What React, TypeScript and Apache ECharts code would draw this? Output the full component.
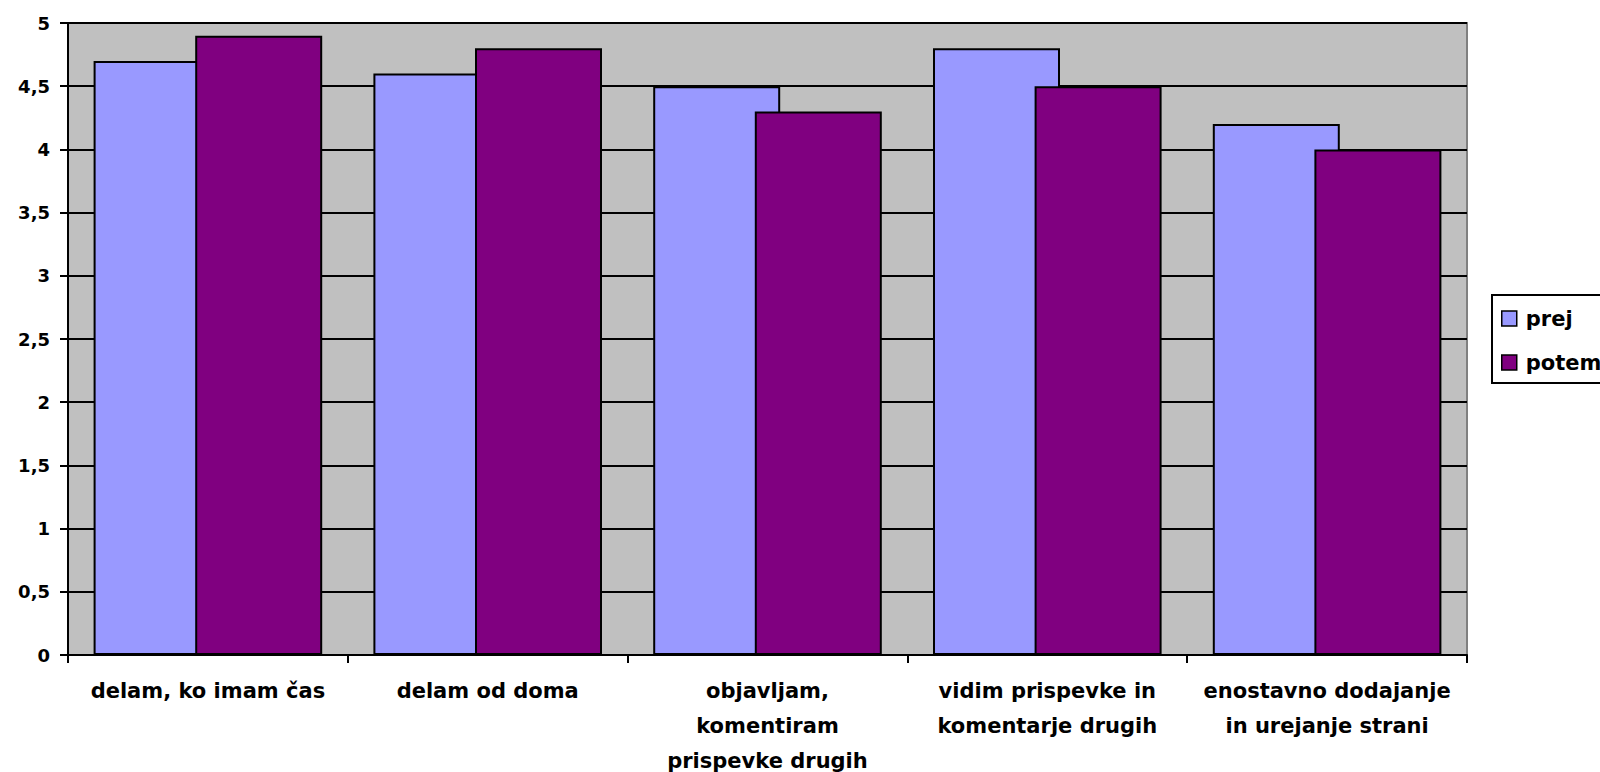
import React, { useEffect, useRef } from "react";
import * as echarts from "echarts";

const categories = [
  "delam, ko imam čas",
  "delam od doma",
  "objavljam,\nkomentiram\nprispevke drugih",
  "vidim prispevke in\nkomentarje drugih",
  "enostavno dodajanje\nin urejanje strani",
];
const prej = [4.7, 4.6, 4.5, 4.8, 4.2];
const potem = [4.9, 4.8, 4.3, 4.5, 4.0];
const seriesNames = ["prej", "potem"];
const yMin = 0;
const yMax = 5;
const yStep = 0.5;

const FONT = "'DejaVu Sans', 'Liberation Sans', Arial, sans-serif";

export default function App() {
  const ref = useRef<HTMLDivElement>(null);
  useEffect(() => {
    if (!ref.current) return;
    const chart = echarts.init(ref.current, null, { renderer: "svg" });
    chart.setOption({
      animation: false,
      backgroundColor: "#ffffff",
      grid: {
        left: 68,
        right: 133,
        top: 23,
        bottom: 117,
        containLabel: false,
        outerBoundsMode: "none",
        show: true,
        backgroundColor: "#C0C0C0",
        borderColor: "#808080",
        borderWidth: 2,
      },
      legend: {
        orient: "vertical",
        left: 1492,
        top: 295,
        padding: [13, 30, 10, 9],
        itemGap: 23,
        itemWidth: 15,
        itemHeight: 15,
        borderColor: "#000",
        borderWidth: 2,
        icon: "rect",
        itemStyle: { borderColor: "#000", borderWidth: 1.5 },
        textStyle: {
          fontFamily: FONT,
          fontWeight: "bold",
          fontSize: 21,
          color: "#000",
          lineHeight: 20,
          padding: [0, 0, 0, 4],
        },
        data: seriesNames,
      },
      xAxis: {
        type: "category",
        data: categories,
        boundaryGap: true,
        axisLine: { lineStyle: { color: "#000", width: 2 } },
        axisTick: {
          show: true,
          interval: 0,
          length: 8,
          lineStyle: { color: "#000", width: 2 },
        },
        axisLabel: {
          interval: 0,
          margin: 18,
          fontFamily: FONT,
          fontWeight: "bold",
          fontSize: 21,
          lineHeight: 35,
          color: "#000",
          align: "center",
        },
      },
      yAxis: {
        type: "value",
        min: yMin,
        max: yMax,
        interval: yStep,
        axisLine: { show: true, lineStyle: { color: "#000", width: 2 } },
        axisTick: { show: true, length: 8, lineStyle: { color: "#000", width: 2 } },
        splitLine: { show: true, lineStyle: { color: "#000", width: 2 } },
        axisLabel: {
          margin: 18,
          fontFamily: FONT,
          fontWeight: "bold",
          fontSize: 18,
          color: "#000",
          formatter: (v: number) => String(v).replace(".", ","),
        },
      },
      series: [
        {
          name: seriesNames[0],
          type: "bar",
          data: prej,
          barWidth: 127,
          barGap: "-20%",
          itemStyle: { color: "#9999FF", borderColor: "#000", borderWidth: 2 },
        },
        {
          name: seriesNames[1],
          type: "bar",
          data: potem,
          barWidth: 127,
          barGap: "-20%",
          itemStyle: { color: "#800080", borderColor: "#000", borderWidth: 2 },
        },
      ],
    });
    return () => chart.dispose();
  }, []);
  return (
    <div
      ref={ref}
      style={{ position: "absolute", left: 0, top: 0, width: 1600, height: 772 }}
    />
  );
}
